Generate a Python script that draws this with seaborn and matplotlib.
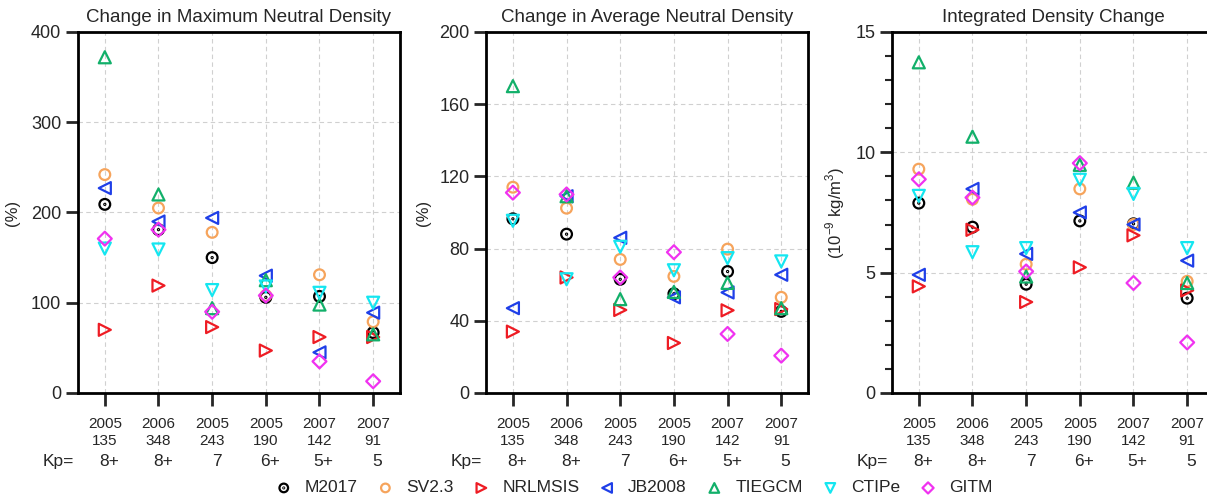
import numpy as np
import pandas as pd
import seaborn as sns
import matplotlib.pyplot as plt
from matplotlib.path import Path
from matplotlib.transforms import blended_transform_factory

# storm events (year / day-of-year / Kp)
years = ['2005', '2006', '2005', '2005', '2007', '2007']
days = ['135', '348', '243', '190', '142', '91']
kp = ['8+', '8+', '7', '6+', '5+', '5']

models = ['M2017', 'SV2.3', 'NRLMSIS', 'JB2008', 'TIEGCM', 'CTIPe', 'GITM']

# Change in maximum neutral density (%)
max_m2017 = [209, 181, 150, 106, 107, 67]
max_sv23 = [242, 205, 178, 108, 131, 79]
max_nrlmsis = [70, 119, 73, 47, 62, 62]
max_jb2008 = [227, 190, 194, 130, 45, 89]
max_tiegcm = [372, 220, 94, 125, 98, 65]
max_ctipe = [160, 159, 114, 118, 111, 100]
max_gitm = [171, 181, 90, 108, 35, 13]

# Change in average neutral density (%)
avg_m2017 = [96.5, 88, 63, 55, 67.3, 45.2]
avg_sv23 = [114, 102.4, 74, 64.6, 79.7, 53]
avg_nrlmsis = [34, 64, 46, 27.7, 45.8, 46.5]
avg_jb2008 = [47, 109, 86, 53, 55.7, 65.5]
avg_tiegcm = [170, 109, 52, 56, 61, 47]
avg_ctipe = [95.4, 63, 81, 68, 74.7, 72.9]
avg_gitm = [111, 110, 64, 78, 32.7, 20.7]

# Integrated density change (1e-9 kg/m3)
int_m2017 = [7.89, 6.89, 4.52, 7.15, 7.03, 3.94]
int_sv23 = [9.3, 8.05, 5.35, 8.48, 7.0, 4.64]
int_nrlmsis = [4.43, 6.78, 3.78, 5.22, 6.55, 4.26]
int_jb2008 = [4.91, 8.48, 5.78, 7.5, 7.0, 5.5]
int_tiegcm = [13.74, 10.65, 4.84, 9.48, 8.74, 4.57]
int_ctipe = [8.19, 5.85, 6.02, 8.86, 8.27, 6.02]
int_gitm = [8.88, 8.12, 5.05, 9.55, 4.57, 2.1]

panels = [
    ('Change in Maximum Neutral Density', '(%)',
     [max_m2017, max_sv23, max_nrlmsis, max_jb2008, max_tiegcm, max_ctipe, max_gitm]),
    ('Change in Average Neutral Density', '(%)',
     [avg_m2017, avg_sv23, avg_nrlmsis, avg_jb2008, avg_tiegcm, avg_ctipe, avg_gitm]),
    ('Integrated Density Change', '(10$^{-9}$ kg/m$^3$)',
     [int_m2017, int_sv23, int_nrlmsis, int_jb2008, int_tiegcm, int_ctipe, int_gitm]),
]

colors = ['black', '#F6A45C', '#EE1C24', '#1F3FE8', '#12B06A', '#14E6F0', '#F032F0']
dot_circle = Path.make_compound_path(Path.circle((0, 0), 1.0), Path.circle((0, 0), 0.1))
markers = [dot_circle, 'o', '>', '<', '^', 'v', 'D']
msizes = [60, 60, 75, 75, 75, 75, 50]

sns.set_style('white')
plt.rcParams['font.family'] = ['Liberation Sans', 'DejaVu Sans']
plt.rcParams['mathtext.fontset'] = 'custom'
plt.rcParams['mathtext.rm'] = 'Liberation Sans'

fig = plt.figure(figsize=(12.07, 5.03), dpi=100)
lefts = [0.0646, 0.4027, 0.739]
axes = [fig.add_axes([l, 0.2187, 0.2668, 0.7177]) for l in lefts]

ylims = [(0, 400, 100), (0, 200, 40), (0, 15, 5)]
label_x = [-0.18, -0.171, -0.14]
pos = np.arange(1, 7)

for ax, (title, ylab, series), (y0, y1, step), lx in zip(axes, panels, ylims, label_x):
    for name, vals, c, m, s in zip(models, series, colors, markers, msizes):
        df = pd.DataFrame({'x': pos, 'y': vals})
        sns.scatterplot(data=df, x='x', y='y', ax=ax, marker=m, s=s,
                        color=c, facecolor='none', edgecolor=c,
                        linewidth=1.6, label=name, zorder=3)
    if ax.get_legend() is not None:
        ax.get_legend().remove()
    ax.set_xlim(0.5, 6.5)
    ax.set_ylim(y0, y1)
    ax.set_yticks(np.arange(y0, y1 + step / 2, step))
    ax.set_xticks(pos)
    ax.set_xticklabels([f'{a}\n{b}' for a, b in zip(years, days)], fontsize=11,
                       linespacing=1.3)
    ax.tick_params(axis='y', labelsize=13, direction='out', length=9, width=2,
                   left=True, pad=3)
    ax.tick_params(axis='x', direction='out', length=9, width=2, bottom=True, pad=8)
    ax.grid(True, color='#d0d0d0', linestyle=(0, (4, 3)), linewidth=0.8)
    ax.set_axisbelow(True)
    for sp in ax.spines.values():
        sp.set_linewidth(2)
        sp.set_color('black')
    ax.set_title(title, fontsize=13.5, pad=7)
    ax.set_ylabel(ylab, fontsize=12)
    ax.yaxis.set_label_coords(lx, 0.5)
    ax.set_xlabel('')
    tr = blended_transform_factory(ax.transData, ax.transAxes)
    ax.text(0.13, -0.19, 'Kp=', transform=tr, ha='center', va='center', fontsize=12.5)
    for p, k in zip(pos, kp):
        ax.text(p + 0.08, -0.19, k, transform=tr, ha='center', va='center', fontsize=12.5)

axes[2].set_yticks(np.arange(0, 16, 1), minor=True)
axes[2].tick_params(axis='y', which='minor', direction='out', length=5, width=1.5, left=True)

handles, labels = axes[0].get_legend_handles_labels()
fig.legend(handles, labels, loc='center', bbox_to_anchor=(0.525, 0.03), ncol=7,
           frameon=False, fontsize=12.5, handletextpad=0.7, columnspacing=1.1,
           handlelength=1.0, markerscale=0.8)

fig.savefig('out.png', dpi=100)
